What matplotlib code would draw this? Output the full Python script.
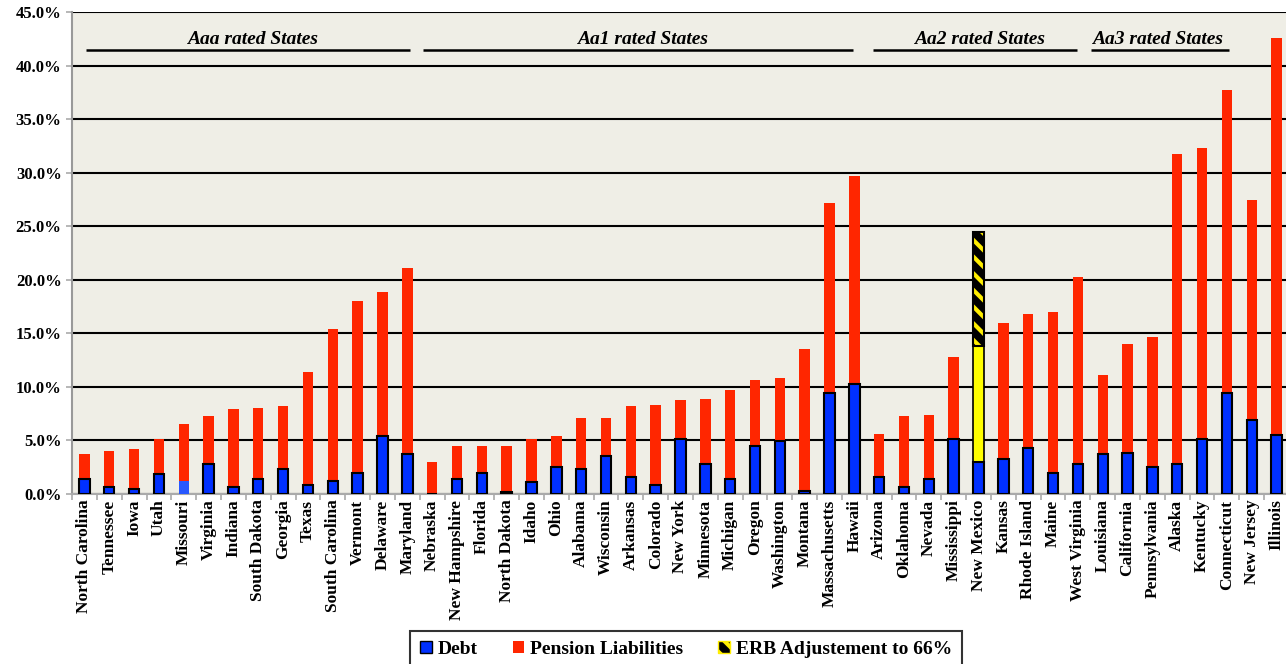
import matplotlib
matplotlib.use("Agg")
import matplotlib.pyplot as plt
from matplotlib.patches import Patch

plt.rcParams['font.family'] = ['Liberation Serif', 'DejaVu Serif']
plt.rcParams['hatch.linewidth'] = 3.0

# data (percent)
states = ["North Carolina", "Tennessee", "Iowa", "Utah", "Missouri", "Virginia", "Indiana",
          "South Dakota", "Georgia", "Texas", "South Carolina", "Vermont", "Delaware", "Maryland",
          "Nebraska", "New Hampshire", "Florida", "North Dakota", "Idaho", "Ohio", "Alabama",
          "Wisconsin", "Arkansas", "Colorado", "New York", "Minnesota", "Michigan", "Oregon",
          "Washington", "Montana", "Massachusetts", "Hawaii",
          "Arizona", "Oklahoma", "Nevada", "Mississippi", "New Mexico", "Kansas", "Rhode Island",
          "Maine", "West Virginia",
          "Louisiana", "California", "Pennsylvania", "Alaska", "Kentucky", "Connecticut",
          "New Jersey", "Illinois"]
debt = [1.4, 0.65, 0.45, 1.85, 1.2, 2.8, 0.65, 1.4, 2.3, 0.8, 1.25, 2.0, 5.4, 3.7,
        0.0, 1.4, 2.0, 0.15, 1.1, 2.5, 2.3, 3.55, 1.55, 0.8, 5.1, 2.8, 1.4, 4.5, 4.95, 0.3, 9.4, 10.3,
        1.6, 0.65, 1.4, 5.1, 3.0, 3.3, 4.3, 2.0, 2.8,
        3.7, 3.85, 2.5, 2.8, 5.1, 9.4, 6.95, 5.55]
pension = [2.3, 3.35, 3.75, 3.25, 5.3, 4.5, 7.25, 6.6, 5.9, 10.6, 14.15, 16.0, 13.5, 17.4,
           2.95, 3.05, 2.45, 4.3, 4.0, 2.9, 4.75, 3.5, 6.65, 7.5, 3.65, 6.1, 8.3, 6.1, 5.85, 13.25,
           17.8, 19.4,
           4.0, 6.65, 6.0, 7.7, 10.8, 12.7, 12.5, 14.95, 17.5,
           7.4, 10.15, 12.15, 28.9, 27.2, 28.3, 20.5, 37.05]
erb_state = "New Mexico"
erb_adjustment = 10.7
groups = ["Aaa rated States", "Aa1 rated States", "Aa2 rated States", "Aa3 rated States"]

blue = '#0030ff'
red = '#ff2600'

fig = plt.figure(figsize=(12.86, 6.64), dpi=100)
ax = fig.add_axes([72 / 1286, 1 - 494 / 664, 1217 / 1286, 482 / 664])
ax.set_facecolor('#efeee6')

x = list(range(len(states)))
w = 0.42
nm = states.index(erb_state)
mo = states.index("Missouri")

pen_colors = [red] * len(states)
pen_colors[nm] = '#ffff00'
pen_edges = ['none'] * len(states)
pen_edges[nm] = 'black'
ax.bar(x, pension, w, bottom=debt, color=pen_colors, edgecolor=pen_edges, linewidth=1.2, zorder=3)

debt_edges = ['black'] * len(states)
debt_edges[mo] = 'none'
debt_colors = [blue] * len(states)
debt_colors[mo] = '#2858ff'
ax.bar(x, debt, w, color=debt_colors, edgecolor=debt_edges, linewidth=1.5, zorder=4)

top_nm = debt[nm] + pension[nm]
ax.bar(nm, erb_adjustment, w, bottom=top_nm, color='black', edgecolor='#ffee00',
       hatch='\\\\', linewidth=0, zorder=4)
ax.bar(nm, erb_adjustment, w, bottom=top_nm, color='none', edgecolor='black',
       linewidth=1.5, zorder=5)

# axes styling
ax.set_xlim(-0.5, len(states) - 0.5)
ax.set_ylim(0, 45)
ax.set_yticks(range(0, 46, 5))
ax.set_yticklabels([f"{v:.1f}%" for v in range(0, 46, 5)], fontsize=12, fontweight='bold')
ax.yaxis.grid(True, color='black', linewidth=1.5)
ax.set_axisbelow(True)
ax.set_xticks([i - 0.5 for i in range(len(states) + 1)])
ax.set_xticklabels([])
ax.set_xticks(x, minor=True)
ax.set_xticklabels(states, minor=True, rotation=90, fontsize=12.5, fontweight='bold')
ax.tick_params(axis='x', which='minor', length=0, pad=4)
ax.tick_params(axis='x', which='major', length=4, color='#aaaaaa', width=1.2)
ax.tick_params(axis='y', length=4, color='#aaaaaa', width=1.2)
for s in ['top', 'right']:
    ax.spines[s].set_visible(False)
ax.spines['left'].set_color('#999999')
ax.spines['left'].set_linewidth(1.5)
ax.spines['bottom'].set_color('#aaaaaa')
ax.spines['bottom'].set_linewidth(1.5)

# rating group headers
header_lines = [(0.08, 13.09), (13.65, 30.93), (31.74, 39.95), (40.52, 46.07)]
header_x = [6.77, 22.47, 36.03, 43.2]
for name, (x0, x1), xc in zip(groups, header_lines, header_x):
    ax.plot([x0, x1], [41.45, 41.45], color='black', linewidth=1.8,
            solid_capstyle='butt', zorder=6)
    ax.text(xc, 41.6, name, ha='center', va='bottom', fontsize=14,
            fontweight='bold', fontstyle='italic', zorder=6)

handles = [Patch(facecolor=blue, edgecolor='black', label='Debt'),
           Patch(facecolor=red, edgecolor='none', label='Pension Liabilities'),
           Patch(facecolor='black', edgecolor='#ffee00', hatch='\\\\',
                 label='ERB Adjustement to 66%')]
leg = fig.legend(handles=handles, loc='upper center', bbox_to_anchor=(686 / 1286, 1 - 625 / 664),
                 ncol=3, frameon=True, fancybox=False, edgecolor='black',
                 prop={'weight': 'bold', 'size': 14}, handlelength=0.6, handleheight=0.6,
                 handletextpad=0.3, columnspacing=1.8, borderpad=0.5, borderaxespad=0.3)
leg.get_frame().set_linewidth(1.5)

fig.savefig("out.png", dpi=100)
